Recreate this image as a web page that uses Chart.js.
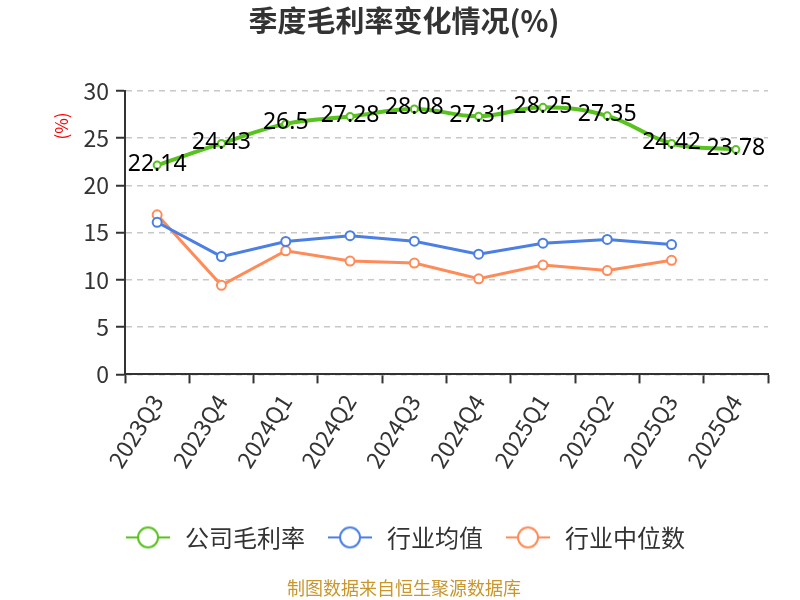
<!DOCTYPE html>
<html>
<head>
<meta charset="utf-8">
<script src="https://cdn.jsdelivr.net/npm/chart.js@4/dist/chart.umd.min.js"></script>
<style>
  html, body { margin: 0; padding: 0; background: #fff; }
  #wrap { width: 800px; height: 600px; }
</style>
</head>
<body>
<div id="wrap"><canvas id="c" width="800" height="600"></canvas></div>
<script>
// data
const quarters = ["2023Q3","2023Q4","2024Q1","2024Q2","2024Q3","2024Q4","2025Q1","2025Q2","2025Q3","2025Q4"];
const companyMargin = [22.14, 24.43, 26.5, 27.28, 28.08, 27.31, 28.25, 27.35, 24.42, 23.78];
const industryAvg    = [16.09, 12.46, 14.06, 14.67, 14.09, 12.72, 13.88, 14.28, 13.73, null];
const industryMedian = [16.88, 9.42, 13.08, 11.99, 11.78, 10.11, 11.56, 10.98, 12.07, null];
const yTicks = [0, 5, 10, 15, 20, 25, 30];

const FONT = '"Noto Sans CJK SC", "Noto Sans", sans-serif';
const GREEN = "#58c21f", BLUE = "#4b7fe4", ORANGE = "#ff8b58";

// legend marker: short line with hollow circle
function legendIcon(color) {
  const cv = document.createElement("canvas");
  cv.width = 44; cv.height = 24;
  const g = cv.getContext("2d");
  g.strokeStyle = color; g.lineWidth = 2;
  g.beginPath(); g.moveTo(0, 12); g.lineTo(44, 12); g.stroke();
  g.fillStyle = "#fff";
  g.beginPath(); g.arc(22, 12, 10, 0, Math.PI * 2); g.fill(); g.stroke();
  return cv;
}

// value labels on the company line + red y title
const extras = {
  id: "extras",
  afterDatasetsDraw(chart) {
    const ctx = chart.ctx;
    const meta = chart.getDatasetMeta(0);
    ctx.save();
    ctx.font = '23px "Noto Sans", sans-serif';
    ctx.fillStyle = "#000";
    ctx.textAlign = "center";
    ctx.textBaseline = "middle";
    meta.data.forEach((pt, i) => {
      ctx.fillText(String(companyMargin[i]), pt.x, pt.y - 1);
    });
    ctx.restore();

    ctx.save();
    ctx.translate(62, 126);
    ctx.rotate(-Math.PI / 2);
    ctx.font = "17px " + FONT;
    ctx.fillStyle = "#ff0000";
    ctx.textAlign = "center";
    ctx.textBaseline = "middle";
    ctx.fillText("(%)", 0, 0);
    ctx.restore();
  }
};

new Chart(document.getElementById("c"), {
  type: "line",
  data: {
    labels: quarters,
    datasets: [
      { label: "公司毛利率", data: companyMargin, borderColor: GREEN, backgroundColor: "#fff",
        borderWidth: 4, tension: 0.4, pointRadius: 3.5, pointBorderWidth: 2 },
      { label: "行业均值", data: industryAvg, borderColor: BLUE, backgroundColor: "#fff",
        borderWidth: 3, tension: 0, pointRadius: 4.5, pointBorderWidth: 2 },
      { label: "行业中位数", data: industryMedian, borderColor: ORANGE, backgroundColor: "#fff",
        borderWidth: 3, tension: 0, pointRadius: 4.5, pointBorderWidth: 2 }
    ]
  },
  options: {
    responsive: false,
    animation: false,
    layout: { padding: { left: 40, right: 32, top: 0, bottom: 0 } },
    elements: { point: { pointStyle: "circle" } },
    plugins: {
      title: {
        display: true, text: "季度毛利率变化情况(%)", color: "#333",
        font: { family: FONT, size: 29, weight: "bold" },
        padding: { top: 4, bottom: 52 }
      },
      subtitle: {
        display: true, position: "bottom", text: "制图数据来自恒生聚源数据库", color: "#c9962c",
        font: { family: FONT, size: 18 },
        padding: { top: 18, bottom: 1 }
      },
      legend: {
        position: "bottom",
        labels: {
          font: { family: FONT, size: 24 }, color: "#333",
          usePointStyle: true, pointStyleWidth: 50, padding: 20,
          generateLabels: (chart) => chart.data.datasets.map((ds, i) => ({
            text: ds.label, datasetIndex: i, fontColor: "#333",
            pointStyle: legendIcon(ds.borderColor), hidden: false, lineWidth: 0
          }))
        }
      },
      tooltip: { enabled: false }
    },
    scales: {
      x: {
        offset: true,
        grid: { offset: true, drawOnChartArea: false, drawTicks: true, tickLength: 9, tickColor: "#333", tickWidth: 2 },
        border: { color: "#333", width: 2 },
        ticks: { color: "#333", font: { family: FONT, size: 23 }, minRotation: 58, maxRotation: 58, padding: 6 },
        afterFit: (s) => { s.height = 131; }
      },
      y: {
        min: 0, max: 30,
        afterBuildTicks: (s) => { s.ticks = yTicks.map(v => ({ value: v })); },
        grid: { color: "#c8c8c8", lineWidth: 1.5, drawTicks: true, tickLength: 9, tickColor: "#333", tickWidth: 2 },
        border: { color: "#333", width: 2, dash: [6, 5] },
        ticks: { color: "#333", font: { family: FONT, size: 23 }, padding: 7 },
        afterFit: (s) => { s.width = 85; }
      }
    }
  },
  plugins: [extras]
});
</script>
</body>
</html>
